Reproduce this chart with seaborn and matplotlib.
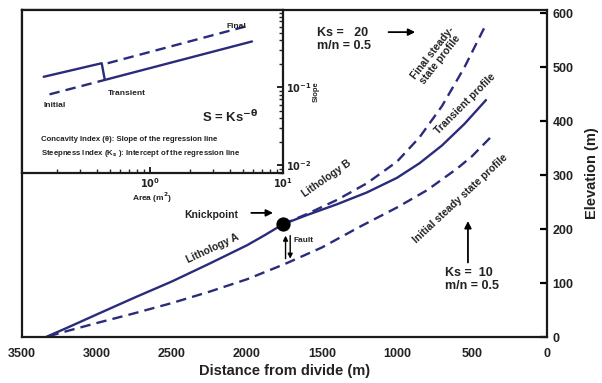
import matplotlib
matplotlib.use("Agg")
import matplotlib.pyplot as plt
import seaborn as sns

# ---------------- data ----------------
initial_x = [3340, 3200, 3000, 2750, 2500, 2250, 2000, 1750, 1500, 1250, 1000, 800, 600, 500, 380]
initial_y = [0, 11, 26, 44, 63, 84, 107, 135, 166, 204, 240, 272, 312, 335, 369]

transient_x = [3340, 3200, 3000, 2750, 2500, 2250, 2000, 1880, 1760,
               1600, 1400, 1200, 1000, 850, 700, 550, 407]
transient_y = [0, 17, 42, 73, 103, 136, 170, 189, 209,
               226, 246, 268, 295, 322, 355, 395, 439]

final_x = [1760, 1600, 1400, 1200, 1000, 850, 700, 550, 420]
final_y = [209, 228, 254, 285, 325, 370, 428, 500, 572]

knick_x = [1760]
knick_y = [209]

inset_transient_area = [0.16, 0.436, 0.46, 5.85]
inset_transient_slope = [0.136, 0.203, 0.124, 0.386]
inset_initial_area = [0.177, 0.46]
inset_initial_slope = [0.081, 0.124]
inset_final_area = [0.483, 5.46]
inset_final_slope = [0.203, 0.612]

x_ticks = [3500, 3000, 2500, 2000, 1500, 1000, 500, 0]
x_ticklabels = ["3500", "3000", "2500", "2000", "1500", "1000", "500", "0"]
y_ticks = [0, 100, 200, 300, 400, 500, 600]
y_ticklabels = ["0", "100", "200", "300", "400", "500", "600"]

# ---------------- style ----------------
sns.set_theme(style="white")
plt.rcParams["font.family"] = ["Liberation Sans", "DejaVu Sans"]
plt.rcParams["font.weight"] = "bold"
plt.rcParams["mathtext.default"] = "bf"
plt.rcParams["axes.linewidth"] = 1.6

NAVY = "#2b2b7c"
DASH = (0, (4.4, 2.6))
LW = 1.7

fig = plt.figure(figsize=(6.02, 3.83), dpi=100)
ax = fig.add_axes([22 / 602, 1 - 337 / 383, 525 / 602, 327 / 383])

sns.lineplot(x=initial_x, y=initial_y, ax=ax, color=NAVY, lw=LW, linestyle=DASH,
             estimator=None, sort=True)
sns.lineplot(x=transient_x, y=transient_y, ax=ax, color=NAVY, lw=LW,
             estimator=None, sort=True)
sns.lineplot(x=final_x, y=final_y, ax=ax, color=NAVY, lw=LW, linestyle=DASH,
             estimator=None, sort=True)
sns.scatterplot(x=knick_x, y=knick_y, ax=ax, s=90, color="black", zorder=6,
                edgecolor="black")

ax.set_xlim(3500, 0)
ax.set_ylim(0, 606)
ax.set_xticks(x_ticks)
ax.set_xticklabels(x_ticklabels)
ax.set_yticks(y_ticks)
ax.set_yticklabels(y_ticklabels)
ax.yaxis.tick_right()
ax.yaxis.set_label_position("right")
ax.tick_params(axis="both", direction="in", length=5, width=1.6, labelsize=9,
               colors="black", pad=4)
ax.tick_params(axis="x", pad=8)
for lab in ax.get_xticklabels() + ax.get_yticklabels():
    lab.set_fontweight("bold")
    lab.set_color("#222222")
for sp in ax.spines.values():
    sp.set_color("#1a1a1a")
    sp.set_linewidth(1.6)
ax.set_xlabel("Distance from divide (m)", fontsize=10.5, fontweight="bold",
              labelpad=3, color="#222222")
ax.set_ylabel("Elevation (m)", fontsize=10.5, fontweight="bold", labelpad=8,
              color="#222222")

# ---------------- annotations ----------------
txt = dict(fontweight="bold", color="#222222")
ax.text(2240, 226, "Knickpoint", fontsize=7.5, ha="center", va="center", **txt)
ax.annotate("", xy=(1808, 230), xytext=(1990, 230),
            arrowprops=dict(arrowstyle="-|>", color="black", lw=1.3,
                            mutation_scale=10))
ax.annotate("", xy=(1743, 193), xytext=(1743, 140),
            arrowprops=dict(arrowstyle="-|>", color="black", lw=1.0,
                            mutation_scale=7))
ax.annotate("", xy=(1712, 140), xytext=(1712, 193),
            arrowprops=dict(arrowstyle="-|>", color="black", lw=1.0,
                            mutation_scale=7))
ax.text(1690, 178, "Fault", fontsize=6, ha="left", va="center", **txt)
ax.text(2230, 165, "Lithology A", fontsize=7.5, rotation=25, ha="center",
        va="center", **txt)
ax.text(1470, 294, "Lithology B", fontsize=7.5, rotation=35, ha="center",
        va="center", **txt)
ax.text(735, 520, "Final steady-\nstate profile", fontsize=7.5, rotation=52,
        ha="center", va="center", linespacing=1.0, **txt)
ax.text(545, 433, "Transient profile", fontsize=7.5, rotation=45,
        ha="center", va="center", **txt)
ax.text(575, 257, "Initial steady state profile", fontsize=7.5, rotation=43,
        ha="center", va="center", **txt)
ax.text(1535, 552, "Ks =   20\nm/n = 0.5", fontsize=9, ha="left", va="center",
        linespacing=1.1, **txt)
ax.annotate("", xy=(860, 565), xytext=(1075, 565),
            arrowprops=dict(arrowstyle="-|>", color="black", lw=1.3,
                            mutation_scale=10))
ax.text(680, 106, "Ks =  10\nm/n = 0.5", fontsize=9, ha="left", va="center",
        linespacing=1.1, **txt)
ax.annotate("", xy=(527, 220), xytext=(527, 133),
            arrowprops=dict(arrowstyle="-|>", color="black", lw=1.3,
                            mutation_scale=10))

# ---------------- inset ----------------
ai = fig.add_axes([22 / 602, 1 - 173 / 383, 261 / 602, 163 / 383])
ai.set_facecolor("white")
sns.lineplot(x=inset_transient_area, y=inset_transient_slope, ax=ai, color=NAVY,
             lw=LW, estimator=None, sort=False)
sns.lineplot(x=inset_initial_area, y=inset_initial_slope, ax=ai, color=NAVY,
             lw=LW, linestyle=DASH, estimator=None, sort=False)
sns.lineplot(x=inset_final_area, y=inset_final_slope, ax=ai, color=NAVY,
             lw=LW, linestyle=DASH, estimator=None, sort=False)
ai.set_xscale("log")
ai.set_yscale("log")
ai.set_xlim(0.11, 10)
ai.set_ylim(10 ** -2.1, 10 ** -0.01)
ai.set_xticks([1, 10])
ai.set_xticklabels([r"$10^{0}$", r"$10^{1}$"])
ai.set_yticks([0.01, 0.1])
ai.set_yticklabels([r"$10^{-2}$", r"$10^{-1}$"])
ai.yaxis.tick_right()
ai.yaxis.set_label_position("right")
ai.tick_params(axis="both", which="major", direction="in", length=4, width=1.2,
               labelsize=7, colors="black", pad=2)
ai.tick_params(axis="both", which="minor", direction="in", length=2.8, width=1.0)
ai.tick_params(axis="x", which="both", bottom=True, top=False)
ai.tick_params(axis="y", which="both", right=True, left=False)
for lab in ai.get_xticklabels() + ai.get_yticklabels():
    lab.set_color("#222222")
for sp in ai.spines.values():
    sp.set_color("#1a1a1a")
    sp.set_linewidth(1.6)
ai.set_xlabel("Area (m$^{2}$)", fontsize=6, fontweight="bold", labelpad=1,
              color="#222222")
ai.set_ylabel("Slope", fontsize=5.5, fontweight="bold", labelpad=1,
              color="#222222")

ai.text(0.82, 0.90, "Final", transform=ai.transAxes, fontsize=6, ha="center",
        va="center", **txt)
ai.text(0.125, 0.415, "Initial", transform=ai.transAxes, fontsize=6,
        ha="center", va="center", **txt)
ai.text(0.40, 0.49, "Transient", transform=ai.transAxes, fontsize=6,
        ha="center", va="center", **txt)
ai.text(0.80, 0.345, r"S = Ks$^{-\theta}$", transform=ai.transAxes, fontsize=9.5,
        ha="center", va="center", **txt)
ai.text(0.072, 0.205, "Concavity Index (\u03b8): Slope of the regression line",
        transform=ai.transAxes, fontsize=5.6, ha="left", va="center", **txt)
ai.text(0.072, 0.118, r"Steepness Index (K$_{s}$ ): Intercept of the regression line",
        transform=ai.transAxes, fontsize=5.6, ha="left", va="center", **txt)

fig.savefig("out.png", dpi=100)
